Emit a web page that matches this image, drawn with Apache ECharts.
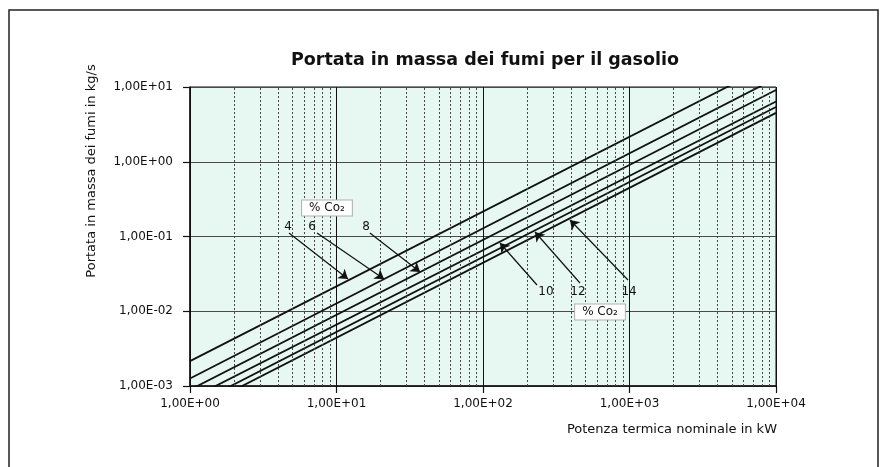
<!DOCTYPE html>
<html><head><meta charset="utf-8">
<script src="https://cdn.jsdelivr.net/npm/echarts@6/dist/echarts.min.js"></script>
<style>html,body{margin:0;padding:0;background:#fff}#c{width:882px;height:467px}</style>
</head><body><div id="c"></div>
<script>
// ---- data ----
const co2Levels = ['4', '6', '8', '10', '12', '14'];          // % CO2 of each curve
const powerEnds = [1, 10000];                                 // kW, ends of each straight log-log line
const flowAtMinPower = [2.15e-3, 1.26e-3, 8.9e-4, 6.7e-4, 5.25e-4, 4.4e-4]; // kg/s at 1 kW
const flowAtMaxPower = [21.6, 13.1, 9.1, 6.4, 5.4, 4.5];                    // kg/s at 10000 kW
const xTickValues = [1, 10, 100, 1000, 10000];
const yTickValues = [0.001, 0.01, 0.1, 1, 10];
// annotation positions in data coordinates (kW, kg/s)
const labelAt   = [[4.67, 0.134], [6.8, 0.134], [15.9, 0.134], [269, 0.0181], [445, 0.0181], [993, 0.0181]];
const arrowFrom = [[4.74, 0.1114], [7.36, 0.1114], [16.9, 0.1114], [233.7, 0.02244], [459, 0.02388], [977, 0.0262]];
const arrowTo   = [[11.98, 0.0270], [21.1, 0.0270], [37.2, 0.0335], [130.6, 0.0818], [226.4, 0.1148], [392.6, 0.1663]];
const co2BoxAt  = [[8.61, 0.2404], [629, 0.00977]];
const co2BoxText = '% Co₂';

// minor vertical grid positions (2..9 of each decade)
const minorX = [];
for (let d = 1; d < 10000; d *= 10) for (let k = 2; k <= 9; k++) minorX.push(k * d);

const FONT = 'DejaVu Sans';
function sci(v) {
  const e = Math.round(Math.log10(v));
  return '1,00E' + (e < 0 ? '-' : '+') + String(Math.abs(e)).padStart(2, '0');
}

const chart = echarts.init(document.getElementById('c'), null, {renderer: 'canvas'});

const curveSeries = co2Levels.map((lvl, i) => ({
  type: 'line',
  name: lvl + '% CO2',
  data: powerEnds.map((p, j) => [p, j === 0 ? flowAtMinPower[i] : flowAtMaxPower[i]]),
  symbol: 'none',
  silent: true,
  z: 3,
  lineStyle: {color: '#111', width: 1.8},
  emphasis: {disabled: true}
}));

const option = {
  animation: false,
  backgroundColor: '#ffffff',
  textStyle: {fontFamily: FONT},
  grid: {left: 190, right: 106, top: 87, bottom: 81, show: true,
         backgroundColor: '#e7f8f3', borderColor: '#111', borderWidth: 1},
  xAxis: {
    type: 'log', logBase: 10, min: xTickValues[0], max: xTickValues[xTickValues.length - 1],
    axisLine: {show: true, lineStyle: {color: '#111', width: 1.5}},
    axisTick: {show: true, length: 7, lineStyle: {color: '#111', width: 1.2}},
    axisLabel: {formatter: sci, margin: 12, color: '#111', fontFamily: FONT, fontSize: 12},
    splitLine: {show: true, lineStyle: {color: '#111', width: 1}}
  },
  yAxis: {
    type: 'log', logBase: 10, min: yTickValues[0], max: yTickValues[yTickValues.length - 1],
    axisLine: {show: true, lineStyle: {color: '#111', width: 1.5}},
    axisTick: {show: true, length: 7, lineStyle: {color: '#111', width: 1.2}},
    axisLabel: {formatter: sci, margin: 17, color: '#111', fontFamily: FONT, fontSize: 12},
    splitLine: {show: true, lineStyle: {color: '#4a4a4a', width: 1}}
  },
  series: [
    {
      type: 'line', data: [], z: 1, silent: true,
      markLine: {
        silent: true, symbol: 'none', animation: false,
        label: {show: false},
        lineStyle: {type: [2, 2], color: '#444', width: 1},
        emphasis: {disabled: true},
        data: minorX.map(v => ({xAxis: v}))
      }
    },
    ...curveSeries,
    {
      type: 'line', data: [], z: 5, silent: true,
      markLine: {
        silent: true, animation: false,
        symbol: ['none', 'arrow'], symbolSize: 9,
        label: {show: false},
        itemStyle: {color: '#111'},
        lineStyle: {type: 'solid', color: '#111', width: 1.2},
        emphasis: {disabled: true},
        data: arrowFrom.map((f, i) => [{coord: f}, {coord: arrowTo[i]}])
      },
      markPoint: {
        silent: true, animation: false,
        symbol: 'circle', symbolSize: 0,
        label: {show: true, position: 'inside', formatter: '{b}', color: '#111', fontFamily: FONT, fontSize: 12},
        data: labelAt.map((c, i) => ({coord: c, name: co2Levels[i]})).concat(
          co2BoxAt.map(c => ({
            coord: c, name: co2BoxText,
            label: {show: true, position: 'inside', formatter: '{b}', color: '#111', fontFamily: FONT, fontSize: 12,
                    backgroundColor: '#ffffff', borderColor: '#b0b0b0', borderWidth: 1, padding: [2, 7, 1, 7]}
          })))
      }
    }
  ],
  graphic: [
    {type: 'rect', silent: true, z: 0,
     shape: {x: 9, y: 10, width: 869, height: 480},
     style: {fill: 'transparent', stroke: '#222', lineWidth: 1.5}},
    {type: 'text', silent: true, x: 485, y: 60,
     style: {text: 'Portata in massa dei fumi per il gasolio', fill: '#111', font: 'bold 17.5px "DejaVu Sans"',
             textAlign: 'center', textVerticalAlign: 'middle'}},
    {type: 'text', silent: true, x: 92, y: 171, rotation: Math.PI / 2,
     style: {text: 'Portata in massa dei fumi in kg/s', fill: '#111', font: '13px "DejaVu Sans"',
             textAlign: 'center', textVerticalAlign: 'middle'}},
    {type: 'text', silent: true, x: 777, y: 430,
     style: {text: 'Potenza termica nominale in kW', fill: '#111', font: '13px "DejaVu Sans"',
             textAlign: 'right', textVerticalAlign: 'middle'}}
  ]
};
chart.setOption(option);
</script>
</body></html>
